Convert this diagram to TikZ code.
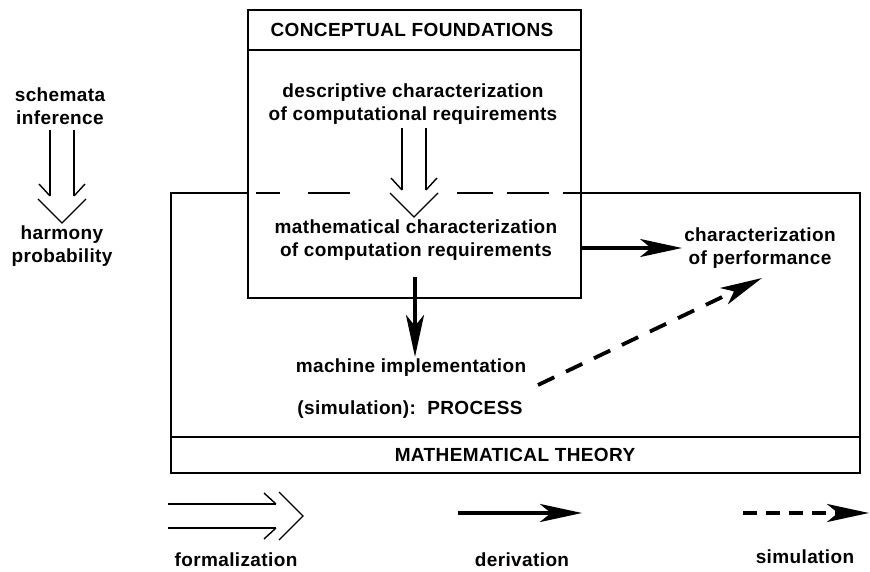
\documentclass[tikz,border=0pt]{standalone}
\usepackage{fontspec}
\setmainfont{Liberation Sans}[LetterSpace=2]
\usetikzlibrary{arrows.meta}
\newcommand{\fmarrow}[3]{%
  \begin{scope}[shift={#1},rotate=#2]
    \draw[thinln] (-27,-12)--(-#3,-12) (-27,12)--(-#3,12);
    \draw[thinln] (-39,-23)--(-27,-12) (-39,23)--(-27,12);
    \draw[thinln] (-24,-24)--(0,0)--(-24,24);
  \end{scope}}
\begin{document}
\begin{tikzpicture}[x=1pt,y=-1pt,
  lab/.style={font=\fontsize{19}{22.5}\selectfont\bfseries, align=center, inner sep=2pt},
  thinln/.style={line width=1.4pt},
  boxline/.style={line width=1.6pt},
  deriv/.style={line width=3.8pt, -{Stealth[length=42pt,width=18pt,inset=11pt]}},
  sim/.style={deriv, dash pattern=on 18pt off 13pt},
  simleg/.style={deriv, dash pattern=on 14pt off 9pt}]
\useasboundingbox (0,0) rectangle (870,572);

% conceptual foundations box
\node[draw, boxline, minimum width=333pt, minimum height=288pt, inner sep=0pt, anchor=north west] (topbox) at (247,9) {};
\draw[boxline] (247,50) -- (580,50);

% mathematical theory box
\draw[boxline] (247,193) -- (171,193) -- (171,473) -- (860,473) -- (860,193) -- (580,193);
\draw[boxline] (171,437) -- (860,437);
\draw[boxline] (256,193)--(280,193) (308,193)--(350,193) (457,193)--(493,193) (507,193)--(549,193) (563,193)--(580,193);

% texts
\node[lab] (cf) at (412,30) {CONCEPTUAL FOUNDATIONS};
\node[lab] (desc) at (413,104) {descriptive characterization\\of computational requirements};
\node[lab] (mathc) at (416,240) {mathematical characterization\\of computation requirements};
\node[lab] (perf) at (760,248) {characterization\\of performance};
\node[lab] (machine) at (411,368) {machine implementation};
\node[lab] (process) at (410,410) {(simulation):\ \ PROCESS};
\node[lab] (mt) at (515,455) {MATHEMATICAL THEORY};
\node[lab] (schem) at (60,106) {schemata\\inference};
\node[lab] (harm) at (62,246) {harmony\\probability};
\node[lab] (lf) at (236,560) {formalization};
\node[lab] (ld) at (522,560) {derivation};
\node[lab] (ls) at (805,557) {simulation};

% formalization arrows
\fmarrow{(62,223)}{-90}{93}
\fmarrow{(414,217)}{-90}{89}
\fmarrow{(303,516)}{0}{135}

% derivation arrows
\coordinate (d1) at (415,277);
\draw[deriv] (d1) -- (d1 |- machine.north);
\draw[deriv] (topbox.east |- perf.west) -- (perf.west);

% simulation arrow
\coordinate (s0) at (538,385);
\coordinate (s1) at (762,278);
\draw[sim] (s0) -- (s1);

% legend
\coordinate (da) at (458,513);
\coordinate (db) at (582,513);
\draw[deriv] (da) -- (db);
\coordinate (sa) at (743,513);
\coordinate (sb) at (869,513);
\draw[simleg] (sa) -- (sb);
\end{tikzpicture}
\end{document}
